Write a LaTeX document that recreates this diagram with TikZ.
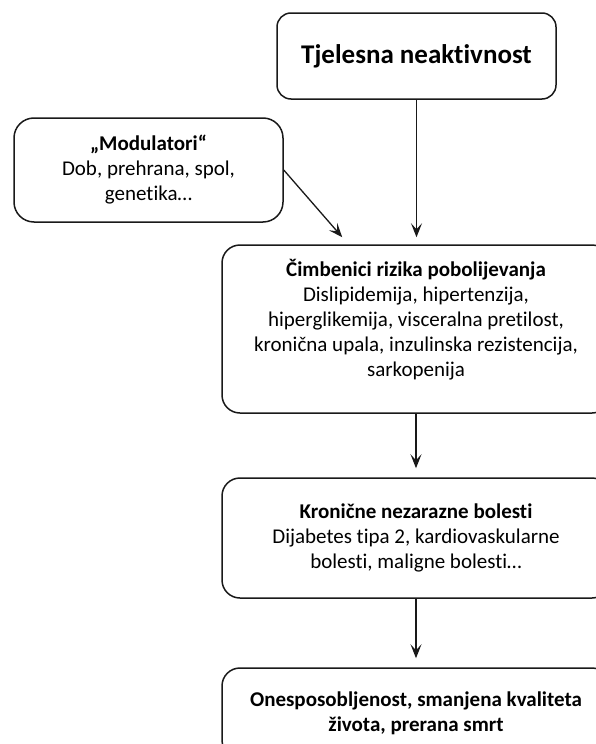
\documentclass[tikz,border=0pt]{standalone}
\usepackage{fontspec}
\setmainfont{Carlito}[Ligatures=NoCommon]
\usepackage{xcolor}
\usetikzlibrary{calc,positioning,arrows.meta}

\begin{document}
\begin{tikzpicture}[
        x=1pt, y=-1pt,
        box/.style={
            draw=black!90, line width=1.5pt, rounded corners=18pt,
            align=center, inner sep=0pt,
            font=\fontsize{21}{25}\selectfont
        },
        arr/.style={
            draw=black!90, line width=1.3pt,
            -{Stealth[length=14pt,width=11pt,inset=6pt]}
        }
    ]
        \useasboundingbox (0,0) rectangle (595,744);
        % top cause
        \node[
            box,
            minimum width=279pt,
            minimum height=86pt,
            rounded corners=14pt,
            font=\bfseries\fontsize{27}{31}\selectfont
        ] (neakt) at (416.5,56) {Tjelesna neaktivnost};
        \node[
            box,
            minimum width=269pt,
            minimum height=104pt,
            rounded corners=20pt
        ] (mod) at (148.5,170) {\textbf{„Modulatori“}\\Dob, prehrana, spol,\\genetika…};
        % chain
        \node[
            box,
            minimum width=388pt,
            minimum height=168pt
        ] (cimb) at (416,329) {\textbf{Čimbenici rizika pobolijevanja}\\Dislipidemija, hipertenzija,\\hiperglikemija, visceralna pretilost,\\kronična upala, inzulinska rezistencija,\\sarkopenija\\[-2pt]\mbox{}};
        \node[
            box,
            minimum width=388pt,
            minimum height=120pt
        ] (kron) at (416,538) {\textbf{Kronične nezarazne bolesti}\\Dijabetes tipa 2, kardiovaskularne\\bolesti, maligne bolesti…};
        \node[
            box,
            minimum width=388pt,
            minimum height=90pt,
            font=\bfseries\fontsize{21}{25}\selectfont
        ] (onesp) at (416,713) {Onesposobljenost, smanjena kvaliteta\\života, prerana smrt};
        \coordinate (modkraj) at ($(cimb.north west)+(121,-7)$);
        \draw[arr, shorten >=7pt] (neakt.south) -- (neakt.south |- cimb.north);
        \draw[arr] (mod.east) -- (modkraj);
        \draw[arr, shorten >=9pt] (cimb.south) -- (kron.north);
        \draw[arr, shorten >=9pt] (kron.south) -- (onesp.north);
    \end{tikzpicture}
\end{document}
